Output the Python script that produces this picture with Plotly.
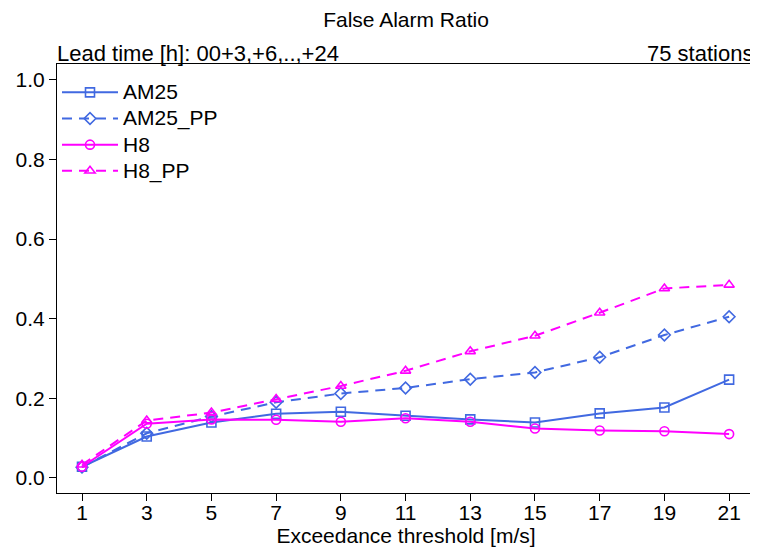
import plotly.graph_objects as go

thresholds = [1, 3, 5, 7, 9, 11, 13, 15, 17, 19, 21]
am25 = [0.028, 0.104, 0.139, 0.161, 0.166, 0.156, 0.147, 0.139, 0.162, 0.177, 0.247]
am25_pp = [0.027, 0.112, 0.154, 0.190, 0.212, 0.226, 0.248, 0.265, 0.303, 0.359, 0.405]
h8 = [0.028, 0.136, 0.147, 0.146, 0.141, 0.150, 0.141, 0.124, 0.119, 0.117, 0.110]
h8_pp = [0.033, 0.144, 0.164, 0.198, 0.231, 0.269, 0.318, 0.357, 0.415, 0.476, 0.485]
y_ticks = [0.0, 0.2, 0.4, 0.6, 0.8, 1.0]
y_tick_labels = ["0.0", "0.2", "0.4", "0.6", "0.8", "1.0"]

BLUE = "#4169E1"
MAG = "#FF00FF"
FONT = "Liberation Sans"
FS = 21

series = [
    ("AM25", am25, BLUE, "solid", "square-open"),
    ("AM25_PP", am25_pp, BLUE, "10px,7px", "diamond-open"),
    ("H8", h8, MAG, "solid", "circle-open"),
    ("H8_PP", h8_pp, MAG, "10px,7px", "triangle-up-open"),
]

fig = go.Figure()
for name, vals, col, dash, sym in series:
    fig.add_trace(go.Scatter(
        x=thresholds, y=vals, mode="lines+markers",
        name='<span style="font-size:%dpx">%s</span>' % (FS, name),
        line=dict(color=col, width=2, dash=dash),
        marker=dict(symbol=sym, size=9, color=col, line=dict(width=1.6, color=col)),
    ))

# page body has an 8px default margin; figure is sized to fit inside the window
fig.update_layout(
    width=750, height=545,
    margin=dict(l=49, r=3, t=56, b=60),
    paper_bgcolor="white", plot_bgcolor="white",
    font=dict(family=FONT, size=FS, color="black"),
    showlegend=True,
    legend=dict(x=0.0, y=0.976, xanchor="left", yanchor="top",
                bgcolor="rgba(0,0,0,0)", font=dict(size=17.8, family=FONT),
                itemwidth=56, tracegroupgap=0),
    title=dict(text="False Alarm Ratio", x=0.5307, xanchor="center",
               y=0.978, yanchor="middle", font=dict(size=FS, family=FONT)),
    annotations=[
        dict(text="Lead time [h]: 00+3,+6,..,+24", xref="paper", yref="paper",
             x=0, y=1.0, xanchor="left", yanchor="bottom", showarrow=False,
             font=dict(size=22, family=FONT), yshift=-4, xshift=-2),
        dict(text="75 stations", xref="paper", yref="paper",
             x=1, y=1.0, xanchor="right", yanchor="bottom", showarrow=False,
             font=dict(size=22, family=FONT), yshift=-4, xshift=0),
    ],
)
fig.update_xaxes(
    range=[0.227, 21.8], tickvals=thresholds, ticktext=[str(t) for t in thresholds],
    ticks="outside", ticklen=7, tickcolor="black", showgrid=False, zeroline=False,
    showline=True, linecolor="black", linewidth=1, mirror=True,
    title=dict(text="Exceedance threshold [m/s]", standoff=2, font=dict(size=FS, family=FONT)),
    tickfont=dict(size=FS, family=FONT), automargin=False, ticklabelstandoff=-6,
)
fig.update_yaxes(
    range=[-0.038, 1.040], tickvals=y_ticks, ticktext=y_tick_labels,
    ticks="outside", ticklen=7, tickcolor="black", showgrid=False, zeroline=False,
    showline=True, linecolor="black", linewidth=1, mirror=True,
    tickfont=dict(size=FS, family=FONT), automargin=False,
)

fig.write_html("out.html")
